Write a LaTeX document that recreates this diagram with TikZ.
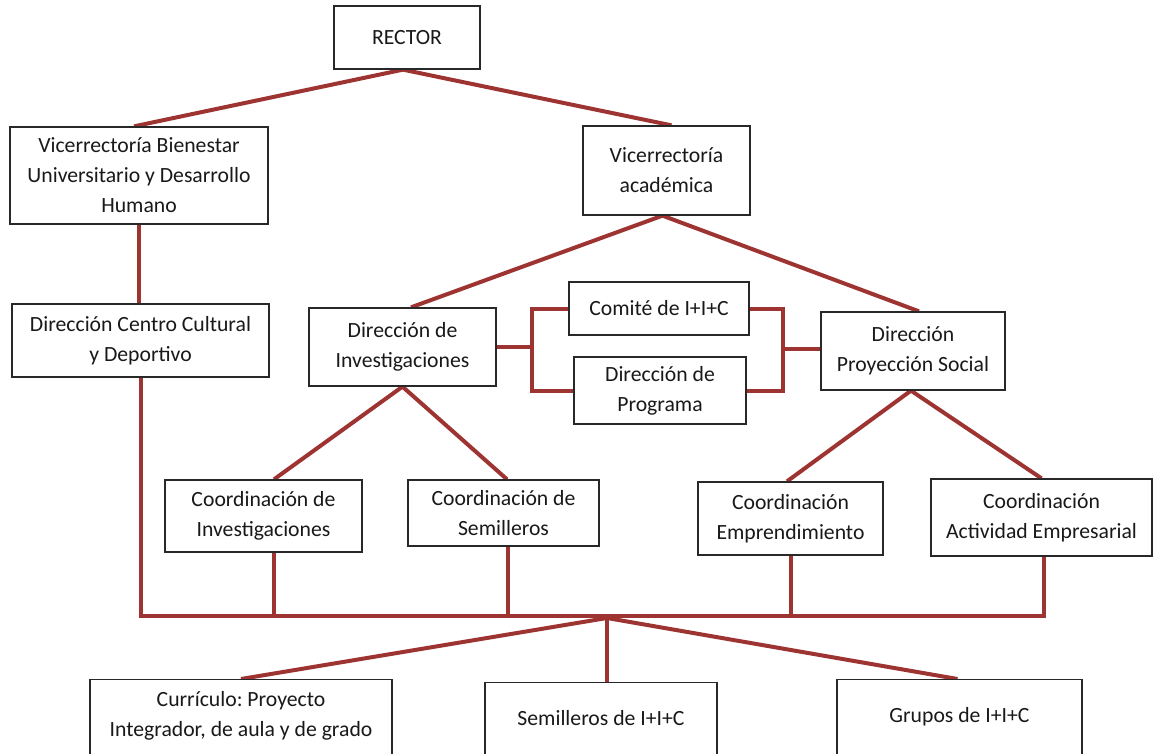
\documentclass[tikz,border=0pt]{standalone}
\usepackage{fontspec}
\setmainfont{Carlito}
\usetikzlibrary{calc,backgrounds}
\definecolor{linkred}{RGB}{158,52,50}
\definecolor{boxline}{RGB}{40,40,40}
\definecolor{txt}{RGB}{25,25,25}
\begin{document}
\frenchspacing
\begin{tikzpicture}[x=1pt,y=-1pt,
  box/.style={draw=boxline, line width=1.3pt, fill=white, align=center, inner sep=0pt,
    font=\fontsize{21.7}{30}\selectfont, text=txt},
  lbl/.style={align=center, inner sep=0pt, font=\fontsize{21.7}{30}\selectfont, text=txt},
  conn/.style={draw=linkred, line width=4pt, line join=miter}]
\clip (0,0) rectangle (1153,754);

% boxes
\node[box, minimum width=146, minimum height=63] (rector) at (407,37.5) {RECTOR};
\node[box, minimum width=258, minimum height=97] (vbien) at (139,175.5) {Vicerrectoría Bienestar\\Universitario y Desarrollo\\Humano};
\node[box, minimum width=257, minimum height=73] (dcc) at (140.5,340.5) {Dirección Centro Cultural\\y Deportivo};
\node[box, minimum width=167, minimum height=89] (vacad) at (666.5,170.5) {Vicerrectoría\\académica};
\node[box, minimum width=187, minimum height=78] (dinv) at (402.5,347) {Dirección de\\Investigaciones};
\node[box, minimum width=180, minimum height=53] (comite) at (659,308.5) {Comité de I+I+C};
\node[box, minimum width=172, minimum height=67] (dprog) at (660,390.5) {Dirección de\\Programa};
\node[box, minimum width=184, minimum height=78] (dproy) at (913,351) {Dirección\\Proyección Social};
\node[box, minimum width=197, minimum height=72] (cinv) at (263.5,516) {Coordinación de\\Investigaciones};
\node[box, minimum width=191, minimum height=66] (csem) at (503.5,513) {Coordinación de\\Semilleros};
\node[box, minimum width=185, minimum height=73] (cemp) at (790.5,518.5) {Coordinación\\Emprendimiento};
\node[box, minimum width=221, minimum height=77] (cact) at (1041.5,517.5) {Coordinación\\Actividad Empresarial};
\node[box, minimum width=302, minimum height=110, anchor=north] (cur) at (241,679) {};
\node[lbl] (curt) at (241,715.5) {Currículo: Proyecto\\Integrador, de aula y de grado};
\node[box, minimum width=232, minimum height=110, anchor=north] (sem) at (601,682) {};
\node[lbl] (semt) at (601,718) {Semilleros de I+I+C};
\node[box, minimum width=245, minimum height=110, anchor=north] (grp) at (959.5,679) {};
\node[lbl] (grpt) at (959.5,717) {Grupos de I+I+C};

\coordinate (bus) at (0,616);
\coordinate (hub) at (607,618);
\coordinate (lb) at (532,349);
\coordinate (rb) at (783,349);
\coordinate (cactB) at ([xshift=2.5]cact.south);
\coordinate (cinvB) at ([xshift=10.5]cinv.south);
\coordinate (csemB) at ([xshift=4.5]csem.south);

\begin{scope}[on background layer]
\fill[white] (0,0) rectangle (1153,754);
\draw[conn] ([xshift=-4]rector.south) -- ([xshift=-5]vbien.north);
\draw[conn] ([xshift=-4]rector.south) -- ([xshift=5]vacad.north);
\draw[conn] (vbien.south) -- (vbien.south |- dcc.north);
\draw[conn] (dcc.south) |- (cactB |- bus) -- (cactB);
\draw[conn] (cinvB) -- (cinvB |- bus);
\draw[conn] (csemB) -- (csemB |- bus);
\draw[conn] (cemp.south) -- (cemp.south |- bus);
\draw[conn] ([xshift=-4]vacad.south) -- ([xshift=8.5]dinv.north);
\draw[conn] ([xshift=-4]vacad.south) -- ([xshift=6]dproy.north);
\draw[conn] (dinv.south) -- ([xshift=10.5]cinv.north);
\draw[conn] (dinv.south) -- ([xshift=3.5]csem.north);
\draw[conn] ([xshift=-2]dproy.south) -- ([xshift=-3.5]cemp.north);
\draw[conn] ([xshift=-2]dproy.south) -- (cact.north);
\draw[conn] (comite.west) -| (lb) |- (dprog.west);
\draw[conn] (dinv.east) -- (dinv.east -| lb);
\draw[conn] (comite.east) -| (rb) |- (dprog.east);
\draw[conn] (rb) -- (rb -| dproy.west);
\draw[conn] (hub) -- (cur.north);
\draw[conn] (hub) -- ([xshift=6]sem.north);
\draw[conn] (hub) -- ([xshift=-2]grp.north);
\end{scope}
\end{tikzpicture}
\end{document}
